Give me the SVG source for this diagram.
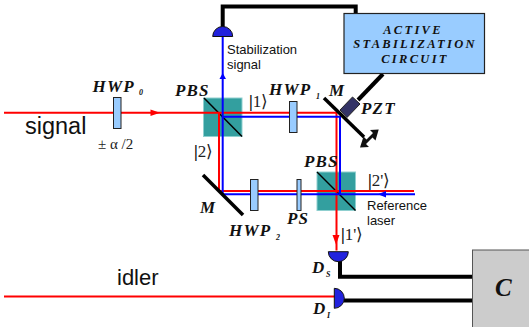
<svg xmlns="http://www.w3.org/2000/svg" width="529" height="327" viewBox="0 0 529 327">
<style>
.m{font-family:"Liberation Serif",serif;font-style:italic;font-weight:bold;fill:#111;letter-spacing:1.2px}
.c{font-size:12.500px;letter-spacing:2.300px;text-anchor:middle}
.s{font-family:"Liberation Sans",Arial,sans-serif;fill:#111}
.k{font-family:"Liberation Serif",serif;font-size:17px;fill:#222}
.k tspan{font-weight:bold;fill:#000}
.bl{fill:none;stroke:#000;stroke-width:4}
.red{fill:none;stroke:#f00;stroke-width:2}
.blu{fill:none;stroke:#00f;stroke-width:2}
.wp{fill:#99ccff;stroke:#222;stroke-width:1}
.cube{fill:#339f9f;stroke:#8fcfcf;stroke-width:1}
.det{fill:#2222dd;stroke:#111;stroke-width:1}
.mir{stroke:#000;stroke-width:3.5;fill:none}
</style>
<g id="cube1"><rect class="cube" x="203.500" y="98" width="38.500" height="38.500"/><path d="M204 98L242 136.500" stroke="#000" stroke-width="1.500"/></g>
<g id="cube2"><rect class="cube" x="317" y="172" width="38.500" height="38.500"/><path d="M317 172L355.500 210.500" stroke="#000" stroke-width="1.500"/></g>
<g id="connectors">
<path class="red" d="M4 112.800H336.500V250.500"/>
<path class="red" d="M219 112.800V191H414"/>
<path class="blu" d="M222.700 36V116.700H340V194.300"/>
<path class="blu" d="M415 194.300H222.700V116.700"/>
<path class="red" d="M4 296.500H335" stroke-width="1.600"/>
<path class="bl" d="M222.700 27V6.500H355.700V13.500"/>
<path class="bl" d="M383 74L358 100"/>
<path class="bl" d="M340 261V276.700H472.500"/>
<path class="bl" d="M344 300.500H472.500"/>
<path d="M150.500 109.500L160 112.800L150.500 116Z" fill="#f00"/>
<path d="M222.700 73L226 79H219.500Z" fill="#00f"/>
<path d="M378 194.300L386 191V197.500Z" fill="#00f"/>
<path d="M336 244.500L332.500 235H339.500Z" fill="#f00"/>
<path d="M360 147.500L363.500 136.500L366.500 139.500L373 133L370 130L378.700 129.500L375.500 140.500L372.500 137.500L366 144L369 147Z" fill="#111"/>
</g>
<g id="hwp0"><rect class="wp" x="113.500" y="97.500" width="7.500" height="31"/><text class="m" x="92.500" y="91.500" font-size="17">HWP</text><text class="m" x="139" y="95" font-size="8">0</text><text class="k" x="98" y="149" style="font-size:15px">± α /2</text></g>
<g id="hwp1"><rect class="wp" x="289.500" y="101.500" width="7.500" height="31"/><text class="m" x="269" y="95" font-size="17">HWP</text><text class="m" x="316" y="99" font-size="8">1</text></g>
<g id="hwp2"><rect class="wp" x="250.500" y="179.500" width="7.500" height="31"/><text class="m" x="229" y="236" font-size="17">HWP</text><text class="m" x="276" y="240" font-size="8">2</text></g>
<g id="ps"><rect class="wp" x="297" y="179.500" width="4" height="31"/><text class="m" x="287" y="224" font-size="17">PS</text></g>
<g id="labels">
<text class="m" x="175" y="96" font-size="17">PBS</text>
<text class="m" x="304" y="167" font-size="17">PBS</text>
<text class="s" x="25" y="134" font-size="23.500">signal</text>
<text class="s" x="117" y="285" font-size="22">idler</text>
<text class="s" x="227" y="54" font-size="13">Stabilization</text>
<text class="s" x="227" y="69" font-size="13">signal</text>
<text class="s" x="367" y="210" font-size="13">Reference</text>
<text class="s" x="367" y="225" font-size="13">laser</text>
<text class="k" x="249" y="107"><tspan>|</tspan>1⟩</text>
<text class="k" x="194" y="157"><tspan>|</tspan>2⟩</text>
<text class="k" x="368" y="186"><tspan>|</tspan>2'⟩</text>
<text class="k" x="341" y="240"><tspan>|</tspan>1'⟩</text>
</g>
<g id="mirror1"><path class="mir" d="M324 98L364 137"/><text class="m" x="329" y="96" font-size="17">M</text></g>
<g id="mirror2"><path class="mir" d="M203 175L243 215"/><text class="m" x="200" y="213" font-size="17">M</text></g>
<g id="pzt"><path d="M340 110L352.500 97L360 104L347 117.500Z" fill="#333366" stroke="#222" stroke-width="1"/><text class="m" x="361" y="114" font-size="17">PZT</text></g>
<g id="circuit"><rect x="344" y="13.500" width="140.500" height="60" fill="#99ccff" stroke="#222" stroke-width="1.200"/>
<text class="m c" x="413" y="34">ACTIVE</text>
<text class="m c" x="415" y="48">STABILIZATION</text>
<text class="m c" x="415" y="62.500">CIRCUIT</text></g>
<g id="det-top"><path class="det" d="M212.700 36.500A10 10 0 0 1 232.700 36.500Z"/></g>
<g id="det-s"><path class="det" d="M328.300 251.700A10 10 0 0 0 348.300 251.700Z"/><text class="m" x="312" y="273" font-size="17">D</text><text class="m" x="326" y="277" font-size="8">S</text></g>
<g id="det-i"><path class="det" d="M334.300 288.300A10 10 0 0 1 334.300 308.300Z"/><text class="m" x="313" y="314" font-size="17">D</text><text class="m" x="327" y="318" font-size="8">I</text></g>
<g id="c"><rect x="472.500" y="250" width="60" height="80" fill="#cccccc" stroke="#555" stroke-width="1"/><text class="m" x="495" y="296" font-size="25">C</text></g>
</svg>
